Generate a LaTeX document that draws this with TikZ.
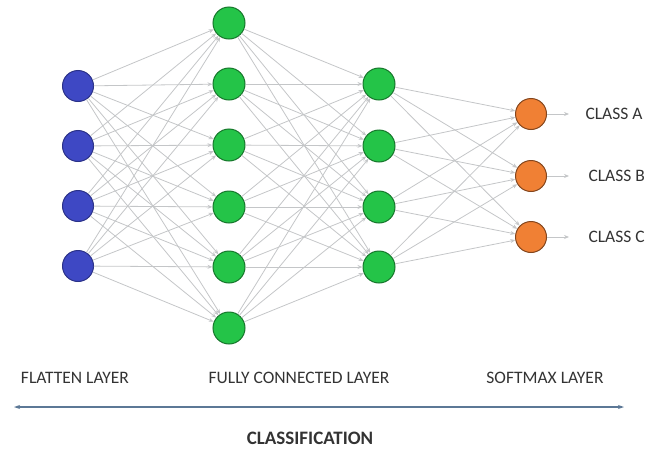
\documentclass[tikz,border=0pt]{standalone}
\usepackage{fontspec}
\setmainfont{Carlito}
\usetikzlibrary{arrows.meta}
\definecolor{flatblue}{RGB}{62,72,196}
\definecolor{densegreen}{RGB}{36,196,72}
\definecolor{softorange}{RGB}{240,128,52}
\definecolor{edgegray}{RGB}{196,198,200}
\definecolor{axisblue}{RGB}{92,120,150}

\begin{document}
\begin{tikzpicture}[x=1pt,y=-1pt,
		flatnode/.style={circle,draw=flatblue!70!black,fill=flatblue,line width=1pt,minimum size=31pt,inner sep=0pt},
		densenode/.style={circle,draw=densegreen!60!black,fill=densegreen,line width=1pt,minimum size=32pt,inner sep=0pt},
		softnode/.style={circle,draw=softorange!55!black,fill=softorange,line width=1pt,minimum size=31pt,inner sep=0pt},
		link/.style={edgegray,line width=0.8pt,-{Stealth[length=5pt,width=4pt]}},
		caption/.style={font=\fontsize{17.5}{20}\selectfont,text=black!80}]
		\useasboundingbox (0,0) rectangle (659,450);
		% flatten layer
		\foreach \i/\y in {1/86,2/146,3/206,4/266}
			\node[flatnode] (f\i) at (78,\y) {};
		% fully connected layers
		\foreach \i/\y in {1/23,2/84,3/145,4/207,5/267,6/328}
			\node[densenode] (h\i) at (229,\y) {};
		\foreach \i/\y in {1/84,2/146,3/207,4/267}
			\node[densenode] (g\i) at (379,\y) {};
		% softmax layer
		\foreach \i/\y in {1/114,2/176,3/237}
			\node[softnode] (s\i) at (531,\y) {};
		\foreach \i in {1,...,4}
			\foreach \j in {1,...,6}
				\draw[link] (f\i) to (h\j);
		\foreach \i in {1,...,6}
			\foreach \j in {1,...,4}
				\draw[link] (h\i) to (g\j);
		\foreach \i in {1,...,4}
			\foreach \j in {1,...,3}
				\draw[link] (g\i) to (s\j);
		% outputs
		\foreach \i/\c/\y/\x in {1/A/114/582,2/B/176/585,3/C/237/585} {
			\coordinate (o\i) at (569,\y);
			\draw[link] (s\i) to (o\i);
			\node[caption,anchor=west] (c\i) at (\x,\y) {CLASS \c};
		}
		\node[caption] (fl) at (75,378) {FLATTEN LAYER};
		\node[caption] (fc) at (299,378) {FULLY CONNECTED LAYER};
		\node[caption] (sm) at (545,378) {SOFTMAX LAYER};
		\coordinate (left) at (14,407);
		\coordinate (right) at (624,407);
		\draw[axisblue,line width=1.1pt,{Stealth[length=6pt,width=4pt]}-{Stealth[length=6pt,width=4pt]}] (left) to (right);
		\node[caption,font=\fontsize{19}{22}\selectfont\bfseries] (cls) at (310,438) {CLASSIFICATION};
	\end{tikzpicture}
\end{document}
